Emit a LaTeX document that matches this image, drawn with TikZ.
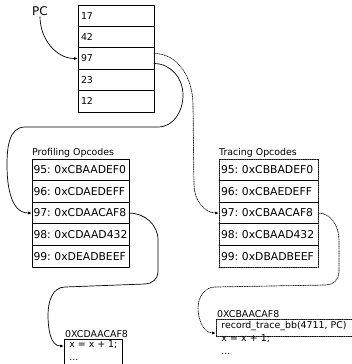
\documentclass[tikz,border=0pt]{standalone}
\usepackage{fontspec}
\setmainfont{DejaVu Sans}
\usetikzlibrary{arrows.meta,positioning}

\begin{document}
\frenchspacing
\begin{tikzpicture}[
		x=1pt,
		y=1pt,
		>={Latex[length=4pt,width=3pt]},
		line cap=round,
		line join=round,
		memcell/.style={draw,line width=0.8pt,outer sep=0pt,minimum width=76pt,minimum height=21.4pt,inner sep=0pt,text width=70pt,align=left,font=\fontsize{9.4}{11}\selectfont},
		opcell/.style={draw,line width=0.8pt,outer sep=0pt,minimum width=97pt,minimum height=21.6pt,inner sep=0pt,text width=94pt,align=left,font=\fontsize{10.8}{12}\selectfont},
		tracecell/.style={opcell,densely dotted,minimum width=99pt,text width=95pt},
		tablelabel/.style={anchor=south west,inner sep=1pt,font=\fontsize{9.4}{11}\selectfont},
		codebox/.style={draw,line width=0.8pt,anchor=north west,inner xsep=5pt,inner ysep=1.5pt,align=left,font=\fontsize{9.4}{13}\selectfont},
		link/.style={->,line width=0.7pt},
		tracelink/.style={link,densely dotted}
	]
	
	% Page
	\useasboundingbox (0,0) rectangle (352,-364);
	
	% Program counter
	\node[font=\fontsize{12}{14}\selectfont,inner sep=1pt] (pc) at (40,-11) {PC};
	
	% Memory
	\node[memcell,anchor=north west] (m17) at (78,-5) {17};
	\node[memcell,below=0pt of m17] (m42) {42};
	\node[memcell,below=0pt of m42] (m97) {97};
	\node[memcell,below=0pt of m97] (m23) {23};
	\node[memcell,below=0pt of m23] (m12) {12};
	
	% Profiling opcodes
	\node[opcell,anchor=north west] (p95) at (32,-159) {\mbox{95: 0xCBAADEF0}};
	\node[opcell,below=0pt of p95] (p96) {\mbox{96: 0xCDAEDEFF}};
	\node[opcell,below=0pt of p96] (p97) {\mbox{97: 0xCDAACAF8}};
	\node[opcell,below=0pt of p97] (p98) {\mbox{98: 0xCDAAD432}};
	\node[opcell,below=0pt of p98] (p99) {\mbox{99: 0xDEADBEEF}};
	\node[tablelabel,xshift=-1pt] (plabel) at (p95.north west) {Profiling Opcodes};
	
	% Tracing opcodes
	\node[tracecell,anchor=north west] (t95) at (219,-159) {\mbox{95: 0xCBBADEF0}};
	\node[tracecell,below=0pt of t95] (t96) {\mbox{96: 0xCBAEDEFF}};
	\node[tracecell,below=0pt of t96] (t97) {\mbox{97: 0xCBAACAF8}};
	\node[tracecell,below=0pt of t97] (t98) {\mbox{98: 0xCBAAD432}};
	\node[tracecell,below=0pt of t98] (t99) {\mbox{99: 0xDBADBEEF}};
	\node[tablelabel,xshift=-1pt] (tlabel) at (t95.north west) {Tracing Opcodes};
	
	% Code blocks
	\node[codebox,text depth=28pt] (pcode) at (64,-339) {x = x + 1;\\...};
	\node[tablelabel] (pcodelabel) at (pcode.north west) {0XCDAACAF8};
	\node[codebox,densely dotted,minimum width=150pt,text width=140pt,text depth=7pt] (tcode) at (216,-319)
	{record\_trace\_bb(4711, PC)\\x = x + 1;\\...};
	\node[tablelabel] (tcodelabel) at (tcode.north west) {0XCBAACAF8};
	
	% Links
	\draw[link] (pc.south) to[out=-90,in=180] (m97.west);
	\draw[link] ([yshift=-5pt]m97.east) to[out=0,in=90] (183,-95) to[out=-90,in=0] (158,-127)
	-- (25,-127) to[out=180,in=90] (7,-165) to[out=-90,in=180] (p97.west);
	\draw[tracelink] ([yshift=5pt]m97.east) to[out=0,in=90] (193,-105) -- (194,-185)
	to[out=-90,in=180] (t97.west);
	\draw[link] (p97.east) to[out=0,in=90] (158,-240) -- (158,-272) to[out=-90,in=0] (145,-284)
	-- (65,-287) to[out=180,in=90] (48,-315) to[out=-90,in=180] ([yshift=-7pt]pcode.north west);
	\draw[tracelink] (t97.east) to[out=0,in=90] (339,-240) -- (339,-272) to[out=-90,in=0] (326,-285)
	-- (215,-287) to[out=180,in=90] (198,-308) to[out=-90,in=180] ([yshift=-14pt]tcode.north west);
	
\end{tikzpicture}
\end{document}
